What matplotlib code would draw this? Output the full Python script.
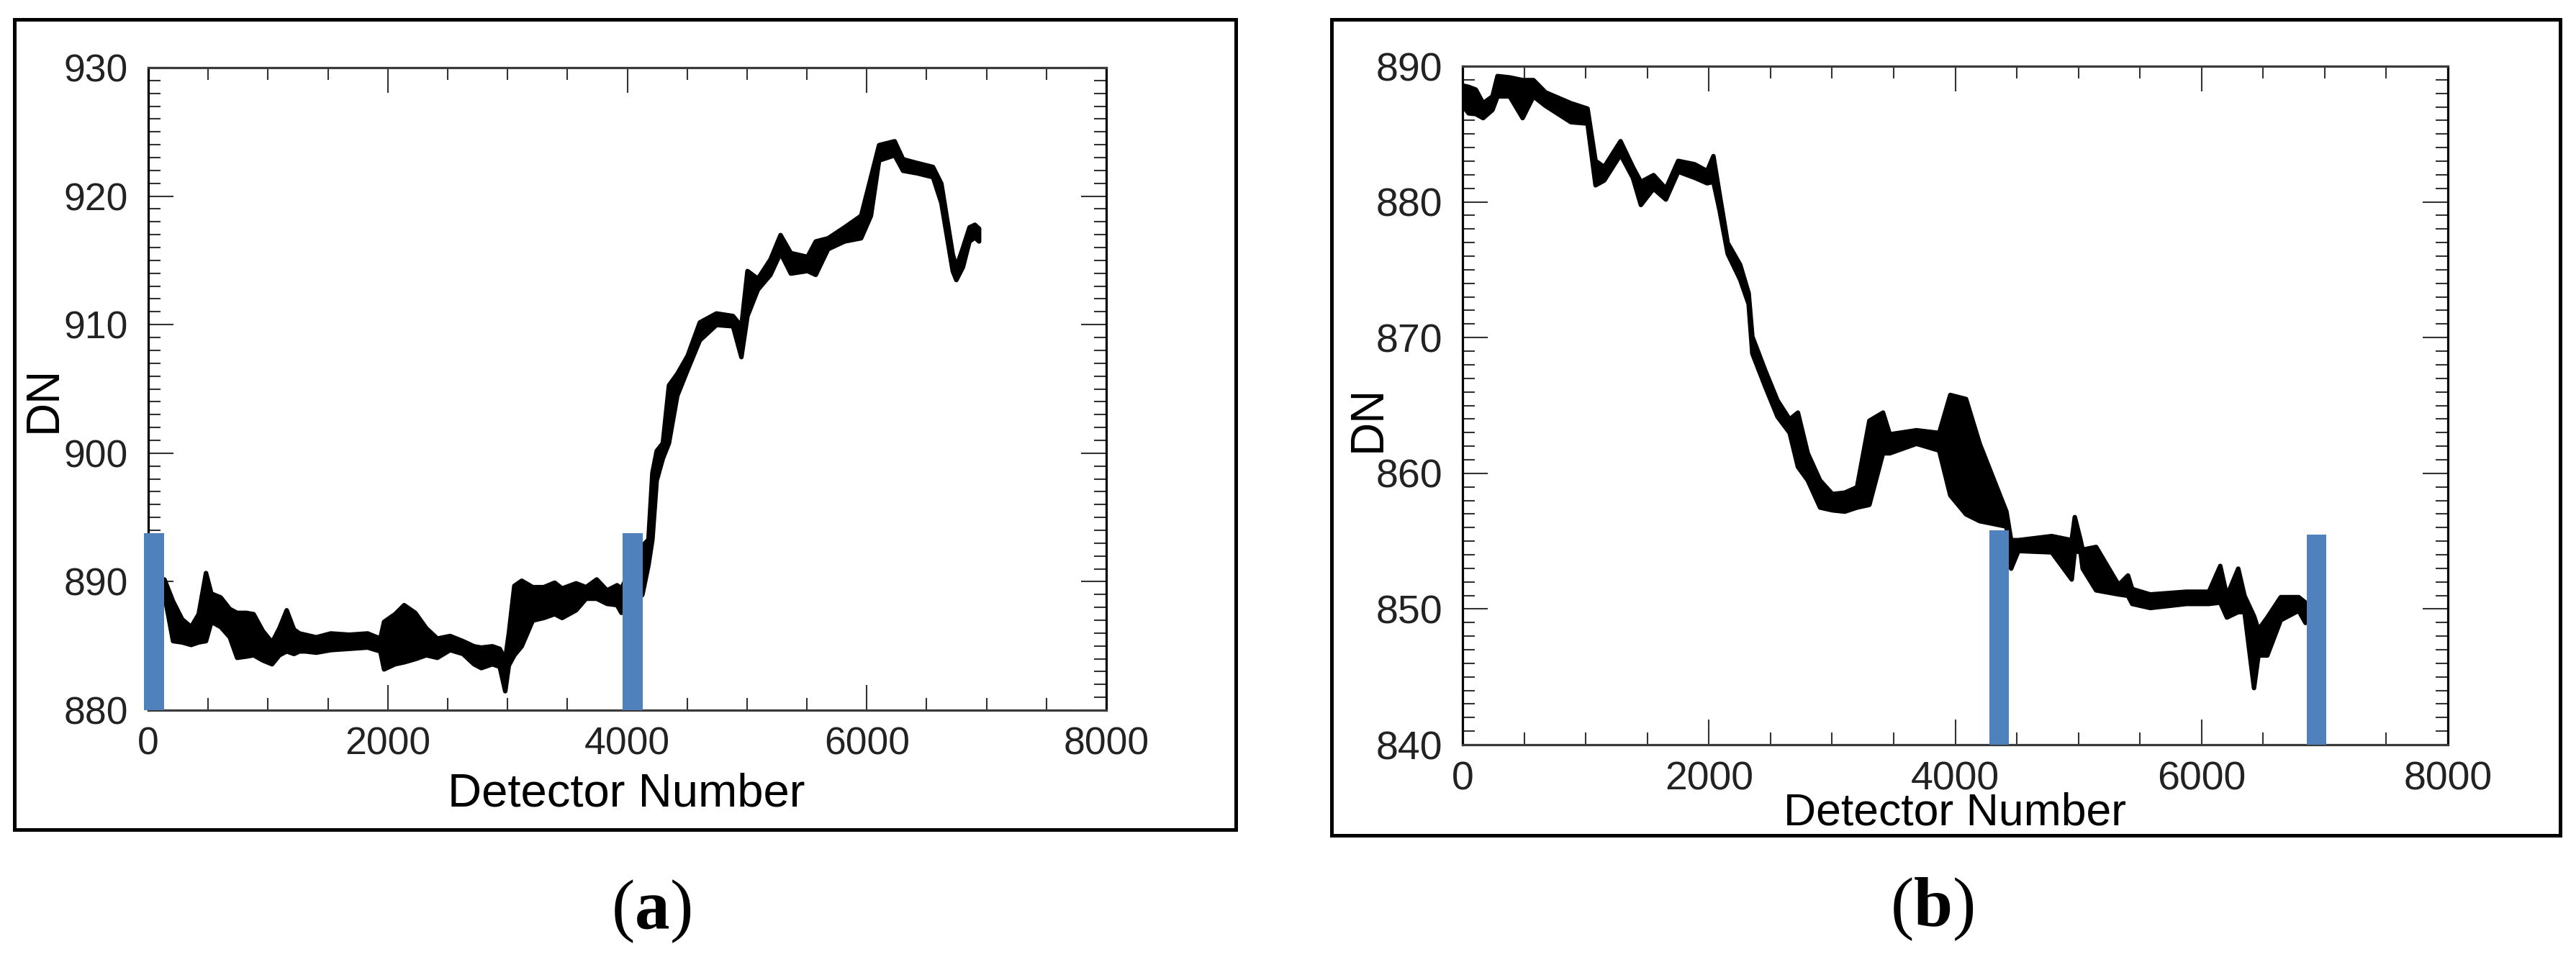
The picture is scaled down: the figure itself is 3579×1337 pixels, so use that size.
import matplotlib
matplotlib.use("Agg")
import matplotlib.pyplot as plt
from matplotlib.patches import Rectangle
from matplotlib.ticker import MultipleLocator

plt.rcParams['font.family'] = ['Liberation Sans', 'DejaVu Sans']
plt.rcParams['mathtext.fontset'] = 'custom'
plt.rcParams['mathtext.rm'] = 'Liberation Serif'
plt.rcParams['mathtext.bf'] = 'Liberation Serif:bold'

# ---------------- data: panel (a) ----------------
a_x = [132, 204, 280, 355, 418, 479, 524, 602, 678, 739, 816, 877, 953, 1031, 1092,
       1153, 1214, 1260, 1307, 1400, 1521, 1676, 1829, 1935, 1966, 2058, 2134, 2227,
       2319, 2411, 2518, 2625, 2717, 2778, 2871, 2932, 2978, 3008, 3054, 3116, 3208,
       3300, 3391, 3453, 3570, 3653, 3742, 3828, 3912, 3948, 4123, 4174, 4207, 4243,
       4294, 4345, 4415, 4501, 4603, 4742, 4880, 4950, 5001, 5088, 5193, 5277, 5363,
       5502, 5571, 5674, 5812, 5950, 6032, 6100, 6230, 6300, 6420, 6550, 6620, 6715,
       6745, 6800, 6855, 6900, 6935]
a_lo = [889.0, 885.4, 885.3, 885.1, 885.3, 885.4, 886.9, 886.5, 885.7, 884.1, 884.2,
        884.3, 883.9, 883.6, 884.3, 884.6, 884.4, 884.6, 884.6, 884.5, 884.7, 884.8,
        884.9, 884.6, 883.2, 883.6, 883.75, 884.0, 884.3, 884.1, 884.7, 884.4, 883.6,
        883.3, 883.6, 883.4, 881.5, 883.5, 884.3, 885.0, 887.0, 887.2, 887.5, 887.2,
        887.8, 888.7, 888.7, 888.3, 888.2, 887.6, 889.0, 891.3, 893.3, 897.9, 899.6,
        900.8, 904.5, 906.5, 908.8, 910.0, 909.9, 907.5, 910.7, 912.75, 913.9, 915.6,
        914.0, 914.2, 913.9, 915.9, 916.5, 916.75, 918.5, 922.8, 923.2, 922.0, 921.8,
        921.5, 919.5, 914.2, 913.5, 914.5, 916.5, 916.8, 916.5]
a_hi = [890.2, 888.5, 887.1, 886.5, 887.5, 890.7, 889.1, 888.8, 887.9, 887.6, 887.6,
        887.5, 886.2, 885.3, 886.4, 887.8, 886.3, 886.0, 885.9, 885.7, 886.0, 885.9,
        886.0, 885.6, 886.9, 887.5, 888.2, 887.6, 886.4, 885.6, 885.8, 885.4, 885.0,
        884.9, 885.0, 884.8, 884.0, 886.0, 889.7, 890.1, 889.6, 889.6, 889.95, 889.5,
        889.9, 889.6, 890.2, 889.35, 889.75, 889.5, 892.8, 893.3, 898.5, 900.2, 900.8,
        905.3, 906.2, 907.6, 910.2, 910.9, 910.7, 909.9, 914.2, 913.6, 915.1, 917.0,
        915.6, 915.3, 916.5, 916.75, 917.6, 918.5, 921.5, 924.0, 924.3, 922.9, 922.6,
        922.3, 921.0, 915.5, 914.5, 916.0, 917.6, 917.8, 917.5]
a_bar_x = [48, 4044]
a_bar_top = [893.8, 893.8]

# ---------------- data: panel (b) ----------------
b_x = [0, 47, 105, 164, 240, 281, 380, 485, 573, 671, 877, 1012, 1077, 1147, 1280,
       1380, 1445, 1548, 1648, 1748, 1882, 1983, 2034, 2084, 2150, 2251, 2320, 2350,
       2455, 2554, 2653, 2720, 2800, 2900, 3000, 3100, 3200, 3300, 3411, 3466, 3683,
       3867, 3957, 4085, 4196, 4413, 4451, 4510, 4781, 4943, 4968, 5015, 5032, 5141,
       5324, 5400, 5434, 5581, 5874, 6057, 6149, 6203, 6295, 6346, 6423, 6459, 6531,
       6640, 6786, 6841]
b_lo = [887.1, 886.55, 886.5, 886.2, 886.8, 887.8, 887.8, 886.2, 887.8, 887.1, 885.9,
        885.8, 881.25, 881.6, 883.5, 881.8, 879.8, 881.0, 880.2, 882.25, 881.8, 881.4,
        881.5, 879.4, 876.2, 874.3, 872.5, 868.85, 866.4, 864.2, 863.0, 860.5, 859.5,
        857.5, 857.3, 857.2, 857.5, 857.7, 861.5, 861.5, 862.2, 861.7, 858.4, 857.0,
        856.5, 856.1, 853.0, 854.3, 854.2, 852.2, 854.3, 854.2, 853.0, 851.4, 851.1,
        851.0, 850.4, 850.1, 850.4, 850.4, 850.5, 849.4, 849.8, 849.8, 844.2, 846.6,
        846.6, 849.2, 849.9, 849.0]
b_hi = [888.6, 888.5, 888.3, 887.3, 887.8, 889.3, 889.2, 889.0, 889.0, 888.1, 887.3,
        886.9, 883.05, 882.6, 884.5, 882.6, 881.5, 882.0, 881.0, 883.05, 882.8, 882.3,
        883.4, 880.6, 877.0, 875.4, 873.3, 870.1, 867.6, 865.4, 864.0, 864.5, 861.5,
        859.5, 858.5, 858.6, 859.0, 863.9, 864.5, 862.9, 863.2, 863.0, 865.8, 865.5,
        862.2, 857.2, 855.1, 855.1, 855.4, 855.1, 856.8, 855.1, 854.4, 854.6, 851.8,
        852.5, 851.5, 851.1, 851.3, 851.3, 853.2, 851.0, 853.0, 851.0, 849.5, 848.5,
        849.4, 850.9, 850.9, 850.5]
b_bar_x = [4354, 6932]
b_bar_top = [855.8, 855.5]

x_ticks = [0, 2000, 4000, 6000, 8000]
a_yticks = [880, 890, 900, 910, 920, 930]
b_yticks = [840, 850, 860, 870, 880, 890]

W, H = 3579, 1337
fig = plt.figure(figsize=(W / 100, H / 100), dpi=100)
fig.patch.set_facecolor('white')

BLUE = '#4F81BD'
TICK_PT = 38.5


def px_rect(x0, y0, x1, y1):
    return [x0 / W, 1 - y1 / H, (x1 - x0) / W, (y1 - y0) / H]


def style_axes(ax, ylim, yticks, fs):
    ax.set_xlim(0, 8000)
    ax.set_ylim(*ylim)
    ax.set_xticks(x_ticks)
    ax.set_yticks(yticks)
    ax.xaxis.set_minor_locator(MultipleLocator(500))
    ax.yaxis.set_minor_locator(MultipleLocator(1))
    ax.tick_params(which='both', direction='in', top=True, right=True,
                   color='#333333', width=1.5)
    ax.tick_params(which='major', length=25)
    ax.tick_params(which='minor', length=12)
    ax.tick_params(axis='x', which='major', pad=16, labelsize=fs, labelcolor='#222222')
    ax.tick_params(axis='y', which='major', pad=20, labelsize=fs, labelcolor='#222222')
    for s in ['left', 'right']:
        ax.spines[s].set_color('black')
        ax.spines[s].set_linewidth(2.3)
    for s in ['top', 'bottom']:
        ax.spines[s].set_color('#3a3a3a')
        ax.spines[s].set_linewidth(2.3)


# ---------- panel (a) ----------
axa = fig.add_axes(px_rect(206, 94, 1537, 987))
style_axes(axa, (880, 930), a_yticks, TICK_PT)
axa.fill_between(a_x, a_lo, a_hi, color='black', lw=4.5, zorder=2)
axa.bar(a_bar_x, [t - 880 for t in a_bar_top], bottom=880, width=168,
        color=BLUE, zorder=3, clip_on=False)
axa.set_xlabel('Detector Number', fontsize=47)
axa.set_ylabel('DN', fontsize=46)
axa.xaxis.set_label_coords(0.499, -0.130)
axa.xaxis.label.set_verticalalignment('center')
axa.yaxis.set_label_coords(-0.109, 0.484)
axa.yaxis.label.set_verticalalignment('center')

# ---------- panel (b) ----------
axb = fig.add_axes(px_rect(2032, 92, 3401, 1035))
style_axes(axb, (840, 890), b_yticks, 40)
axb.fill_between(b_x, b_lo, b_hi, color='black', lw=4.5, zorder=2)
axb.bar(b_bar_x, [t - 840 for t in b_bar_top], bottom=840, width=158,
        color=BLUE, zorder=3, clip_on=False)
axb.set_xlabel('Detector Number', fontsize=45)
axb.set_ylabel('DN', fontsize=46)
axb.xaxis.set_label_coords(0.4996, -0.101)
axb.xaxis.label.set_verticalalignment('center')
axb.yaxis.set_label_coords(-0.0957, 0.480)
axb.yaxis.label.set_verticalalignment('center')

# ---------- outer frames ----------
for (x0, y0, x1, y1) in [(19.5, 26.5, 1716.5, 1153), (1850, 26.5, 3557, 1161)]:
    fig.patches.append(Rectangle((x0 / W, 1 - y1 / H), (x1 - x0) / W, (y1 - y0) / H,
                                 transform=fig.transFigure, fill=False,
                                 edgecolor='black', linewidth=3.6, zorder=0))

fig.text(905 / W, 1 - 1267 / H, r'$(\mathbf{a})$', fontsize=70,
         ha='center', va='center')
fig.text(2684 / W, 1 - 1264 / H, r'$(\mathbf{b})$', fontsize=70,
         ha='center', va='center')

fig.savefig('out.png', dpi=100, facecolor='white')
